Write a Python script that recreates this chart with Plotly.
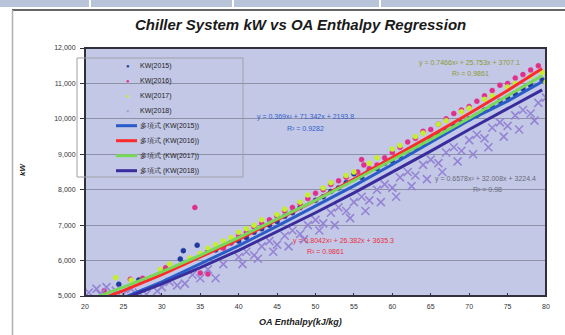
import plotly.graph_objects as go

# ---------------- data ----------------
x15 = [24.4, 27, 30, 32.4, 32.8, 34.6, 36, 38, 40, 42, 44, 46, 48, 50, 52, 54, 55, 56, 58, 60,
       62, 64, 66, 68, 70, 72, 74, 76, 78, 79.5,
       45, 47, 51, 53, 57, 59, 61, 63, 65, 67, 69, 71, 73, 75, 77, 37, 39, 41, 43]
y15 = [5330, 5450, 5700, 6045, 6280, 6435, 6250, 6400, 6550, 6800, 7000, 7250, 7500, 7700, 7950,
       8200, 8450, 8350, 8600, 8800, 9100, 9300, 9550, 9800, 10000, 10250, 10500, 10700, 10950, 11100,
       7100, 7350, 7800, 8050, 8550, 8750, 8950, 9200, 9450, 9650, 9900, 10100, 10350, 10600, 10850,
       6300, 6500, 6650, 6900]

x16 = [22.5, 25.9, 27.5, 30.5, 34.3, 35, 36, 38, 40, 42, 45, 48, 50, 53, 55.5, 56, 56.3, 58, 60,
       62, 64, 66, 68, 70, 72, 74, 76, 78, 79,
       44, 46, 49, 51, 52, 54, 57, 59, 61, 63, 65, 67, 69, 71, 73, 75, 77, 39, 41, 43, 47]
y16 = [5150, 5475, 5500, 5800, 7500, 5650, 5620, 6350, 6700, 6950, 7250, 7600, 7900, 8250, 8500,
       8850, 8700, 8700, 9050, 9350, 9650, 9850, 10150, 10350, 10650, 10950, 11150, 11380, 11500,
       7150, 7400, 7750, 8000, 8150, 8350, 8600, 8900, 9200, 9450, 9700, 10000, 10250, 10500, 10800,
       11000, 11250, 6500, 6800, 7050, 7500]

x17 = [24, 26, 29.8, 31, 33.7, 36, 38, 40, 43, 46, 49, 52, 55, 58, 61, 64, 67, 70, 73, 76, 78,
       79.5, 80, 42, 45, 48, 51, 54, 57, 60, 63, 66, 69, 72, 75, 35, 37, 39, 41]
y17 = [5520, 5450, 5750, 5900, 6070, 6350, 6550, 6800, 7150, 7450, 7850, 8200, 8500, 8900, 9250,
       9600, 9950, 10300, 10650, 11000, 11200, 11300, 11050, 7000, 7300, 7650, 8050, 8400, 8750,
       9150, 9500, 9850, 10200, 10550, 10900, 6200, 6450, 6650, 6900]

x18 = [20.5, 21.5, 22, 22.8, 24, 25, 27, 29.4, 30, 31, 32, 34, 36, 37, 38, 40, 41, 42, 43, 44,
       45, 46, 47, 48, 49, 50, 51, 52, 53, 54, 55, 56, 57, 58, 59, 60, 61, 62, 63, 64, 65, 66,
       67, 68, 69, 70, 71, 72, 73, 74, 75, 76, 77, 78, 79, 80,
       40.5, 42.5, 44.5, 46.5, 48.5, 50.5, 52.5, 54.5, 56.5, 58.5, 60.5, 62.5, 64.5, 66.5, 68.5,
       70.5, 72.5, 74.5, 76.5, 78.5, 35, 33, 28, 26]
y18 = [5100, 5200, 5050, 5250, 5150, 5050, 5100, 5140, 5250, 5400, 5300, 5600, 5750, 5500, 5900,
       6100, 6250, 6150, 6400, 6550, 6450, 6700, 6850, 6750, 7000, 7150, 7050, 7350, 7500, 7400,
       7650, 7800, 7700, 8000, 8150, 8050, 8350, 8500, 8400, 8700, 8850, 8750, 9050, 9200, 9100,
       9400, 9550, 9450, 9750, 9900, 9800, 10100, 10250, 10150, 10450, 10600,
       5900, 6050, 6250, 6400, 6600, 6850, 7000, 7200, 7400, 7650, 7800, 8100, 8300, 8500, 8800,
       9000, 9200, 9500, 9700, 9950, 5500, 5350, 5050, 5200]

# trend lines
tx = [20, 25, 30, 35, 40, 45, 50, 55, 60, 65, 70, 75, 79.5]
t15 = [4550, 4950, 5400, 5900, 6420, 6970, 7530, 8110, 8710, 9330, 9960, 10500, 11050]
t16 = [4750, 5150, 5600, 6100, 6600, 7150, 7700, 8300, 8900, 9520, 10150, 10800, 11420]
t17 = [4850, 5250, 5680, 6150, 6650, 7170, 7700, 8260, 8830, 9420, 10020, 10650, 11220]
t18 = [4550, 4920, 5340, 5800, 6290, 6810, 7350, 7910, 8490, 9090, 9700, 10300, 10820]

x_ticks = [20, 25, 30, 35, 40, 45, 50, 55, 60, 65, 70, 75, 80]
y_ticks = [5000, 6000, 7000, 8000, 9000, 10000, 11000, 12000]

names = ["KW(2015)", "KW(2016)", "KW(2017)", "KW(2018)",
         "多項式 (KW(2015))", "多項式 (KW(2016))", "多項式 (KW(2017))", "多項式 (KW(2018))"]

eq_texts = [
    ("y = 0.369x² + 71.342x + 2193.8", "R² = 0.9282"),
    ("y = 0.8042x² + 26.382x + 3635.3", "R² = 0.9861"),
    ("y = 0.7466x² + 25.753x + 3707.1", "R² = 0.9861"),
    ("y = 0.6578x² + 32.008x + 3224.4", "R² = 0.98"),
]

# ---------------- styling ----------------
FONT = "Liberation Sans"
c_dot = ["#1f3a9c", "#e0308a", "#c6ee2c", "#9484d4"]
c_line = ["#2a5cc8", "#ff2a2a", "#78d858", "#3a2c9c"]
c_eq = ["#3060c8", "#e83040", "#8c9a34", "#6a6a78"]

W, H = 565, 335
L, R, T, B = 85, 546, 48, 296


def px(xp):
    return (xp - L) / (R - L)


def py(yp):
    return (B - yp) / (B - T)


fig = go.Figure()
for xs, ys, col, nm in [(x15, y15, c_dot[0], names[0]), (x16, y16, c_dot[1], names[1]),
                        (x17, y17, c_dot[2], names[2])]:
    fig.add_trace(go.Scatter(x=xs, y=ys, mode="markers", name=nm, showlegend=False,
                             marker=dict(size=5, color=col, line=dict(width=0.5, color=col))))
fig.add_trace(go.Scatter(x=x18, y=y18, mode="markers", name=names[3], showlegend=False,
                         marker=dict(size=8, symbol="x-thin", color=c_dot[3],
                                     line=dict(width=1.6, color=c_dot[3]))))
for ts, col, nm in [(t15, c_line[0], names[4]), (t16, c_line[1], names[5]),
                    (t17, c_line[2], names[6]), (t18, c_line[3], names[7])]:
    fig.add_trace(go.Scatter(x=tx, y=ts, mode="lines", name=nm, showlegend=False,
                             line=dict(color=col, width=3)))

shapes = []
annos = []

# slide header strip and outer chart frame
for a, b in [(0, 89), (91, 232), (234, 379), (381, 565)]:
    shapes.append(dict(type="rect", xref="paper", yref="paper", x0=px(a), x1=px(b),
                       y0=py(7), y1=py(0), fillcolor="#b7c4da", line=dict(width=0), layer="below"))
shapes.append(dict(type="line", xref="paper", yref="paper", x0=px(12), x1=px(565),
                   y0=py(10), y1=py(10), line=dict(color="#333333", width=1.5)))
shapes.append(dict(type="line", xref="paper", yref="paper", x0=px(12.5), x1=px(12.5),
                   y0=py(10), y1=py(335), line=dict(color="#b0b0b0", width=1.5)))
# plot area frame
shapes.append(dict(type="rect", xref="paper", yref="paper", x0=0, x1=1, y0=0, y1=1,
                   line=dict(color="#30303c", width=2)))

# manual legend
shapes.append(dict(type="rect", xref="paper", yref="paper", x0=px(77), x1=px(243),
                   y0=py(177), y1=py(58), line=dict(color="#a0a0a8", width=1)))
ly0, dy = 65.7, 15
for i, nm in enumerate(names):
    yy = py(ly0 + dy * i)
    annos.append(dict(xref="paper", yref="paper", x=px(138), y=yy, text=nm, showarrow=False,
                      xanchor="left", yanchor="middle",
                      font=dict(family=FONT, size=7, color="#222222")))
    if i < 4:
        sym = "×" if i == 3 else "●"
        annos.append(dict(xref="paper", yref="paper", x=px(128), y=yy, text=sym, showarrow=False,
                          xanchor="center", yanchor="middle",
                          font=dict(family=FONT, size=6, color=c_dot[i])))
    else:
        shapes.append(dict(type="line", xref="paper", yref="paper", x0=px(116), x1=px(137),
                           y0=yy, y1=yy, line=dict(color=c_line[i - 4], width=3)))

# regression equations (pixel centres)
eq_pos = [((305, 117), (305, 128)), ((343, 241), (325, 251)),
          ((469, 63), (470, 73)), ((485, 179), (487, 190))]
for (e, r2), ((ex, ey), (rx, ry)), col in zip(eq_texts, eq_pos, c_eq):
    annos.append(dict(xref="paper", yref="paper", x=px(ex), y=py(ey), text=e, showarrow=False,
                      xanchor="center", yanchor="middle", font=dict(family=FONT, size=7, color=col)))
    annos.append(dict(xref="paper", yref="paper", x=px(rx), y=py(ry), text=r2, showarrow=False,
                      xanchor="center", yanchor="middle", font=dict(family=FONT, size=7, color=col)))

# title and axis titles
annos.append(dict(xref="paper", yref="paper", x=px(300), y=py(25),
                  text="<b><i>Chiller System kW vs OA Enthalpy Regression</i></b>", showarrow=False,
                  xanchor="center", yanchor="middle", font=dict(family=FONT, size=15, color="#1a1a1a")))
annos.append(dict(xref="paper", yref="paper", x=px(300), y=py(322),
                  text="<b><i>OA Enthalpy(kJ/kg)</i></b>", showarrow=False,
                  xanchor="center", yanchor="middle", font=dict(family=FONT, size=9, color="#222222")))
annos.append(dict(xref="paper", yref="paper", x=px(22), y=py(170), text="<b><i>kW</i></b>",
                  showarrow=False, textangle=-90, xanchor="center", yanchor="middle",
                  font=dict(family=FONT, size=8, color="#222222")))

fig.update_layout(
    width=W, height=H,
    margin=dict(l=L, r=W - R, t=T, b=H - B),
    paper_bgcolor="white",
    plot_bgcolor="#c4c8e7",
    showlegend=False,
    shapes=shapes,
    annotations=annos,
    font=dict(family=FONT, size=7, color="#333333"),
)
fig.update_xaxes(range=[20, 80], tickvals=x_ticks, ticktext=[str(v) for v in x_ticks],
                 showgrid=False, zeroline=False, ticks="inside", ticklen=3, tickcolor="#333",
                 ticklabelstandoff=5,
                 tickfont=dict(family=FONT, size=7, color="#333333"))
fig.update_yaxes(range=[5000, 12000], tickvals=y_ticks, ticktext=[f"{v:,}" for v in y_ticks],
                 showgrid=True, gridcolor="#8e90a6", gridwidth=1, zeroline=False,
                 ticks="outside", ticklen=4, tickcolor="#333",
                 ticklabelstandoff=3,
                 tickfont=dict(family=FONT, size=7, color="#333333"))

fig.write_html("out.html", config={"displayModeBar": False},
               post_script="document.body.style.margin='0';document.body.style.padding='0';"
                           "document.body.style.overflow='hidden';")
